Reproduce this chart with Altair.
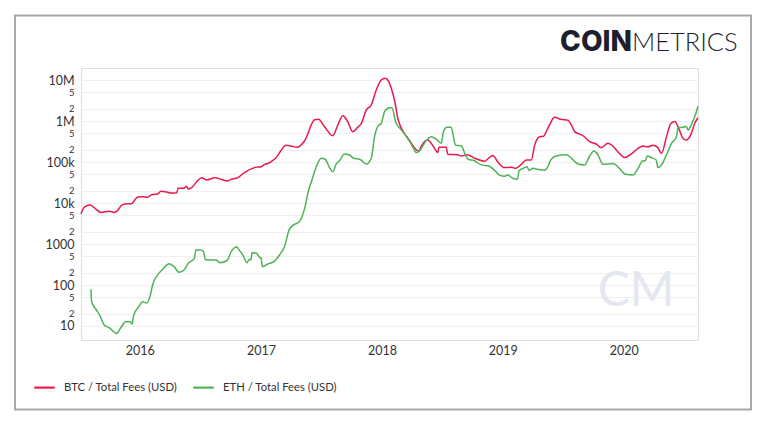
import altair as alt
import pandas as pd

btc_dates = ["2015-07-08","2015-07-18","2015-08-05","2015-08-22","2015-09-06","2015-10-01","2015-10-16","2015-10-26",
"2015-11-08","2015-11-25","2015-12-07","2015-12-26","2016-01-10","2016-01-25","2016-02-06","2016-02-24","2016-03-05",
"2016-03-23","2016-04-04","2016-04-22","2016-04-26","2016-05-14","2016-05-21","2016-05-27","2016-06-09","2016-06-22",
"2016-07-06","2016-07-22","2016-08-15","2016-09-02","2016-09-22","2016-10-07","2016-10-22","2016-11-12","2016-12-18",
"2017-01-02","2017-01-10","2017-01-27","2017-02-16","2017-03-18","2017-04-02","2017-04-20","2017-05-13","2017-06-12",
"2017-06-24","2017-07-12","2017-08-06","2017-08-21","2017-09-05","2017-09-20","2017-10-05","2017-10-21","2017-10-31",
"2017-11-15","2017-11-30","2017-12-15","2017-12-30","2018-01-11","2018-01-24","2018-02-03","2018-02-11","2018-02-18",
"2018-03-01","2018-03-16","2018-03-31","2018-04-13","2018-04-23","2018-04-30","2018-05-20","2018-05-25","2018-06-09",
"2018-06-19","2018-06-22","2018-07-14","2018-07-19","2018-08-18","2018-08-29","2018-09-15","2018-10-08","2018-11-07",
"2018-11-22","2018-12-02","2018-12-17","2019-01-06","2019-01-27","2019-02-09","2019-02-26","2019-03-13","2019-03-28",
"2019-04-07","2019-04-22","2019-05-04","2019-05-14","2019-05-22","2019-06-06","2019-06-24","2019-07-16","2019-07-27",
"2019-08-06","2019-08-31","2019-09-20","2019-10-10","2019-10-25","2019-11-14","2019-11-29","2019-12-14","2020-01-04",
"2020-01-24","2020-02-13","2020-02-28","2020-03-14","2020-03-29","2020-04-12","2020-04-24","2020-05-09","2020-05-22",
"2020-06-03","2020-06-13","2020-06-28","2020-07-08","2020-07-23","2020-08-02","2020-08-12"]
btc_values = [5400,7900,8900,7100,5900,6300,5900,6500,
8900,9600,9600,14000,14300,13800,15900,16600,19300,
18500,17600,17900,23000,23000,25700,21900,25000,33800,
41500,36500,41500,37900,34500,38500,41000,55000,75000,
77000,85000,96000,129000,255000,245000,228000,330000,1070000,
1100000,720000,437000,800000,1340000,966000,550000,720000,870000,
1870000,2460000,5700000,10000000,11000000,8300000,4700000,2460000,1170000,
660000,424000,286000,204000,185000,245000,345000,320000,215000,
170000,228000,228000,155000,150000,140000,150000,124000,105000,
129000,144000,100000,73000,74000,70000,88000,112000,112000,
258000,415000,424000,600000,800000,1230000,1100000,1050000,800000,
550000,437000,313000,275000,224000,286000,245000,178000,129000,
157000,215000,245000,235000,258000,228000,163000,415000,870000,
970000,720000,375000,345000,500000,870000,1200000]

eth_dates = ["2015-08-07","2015-08-09","2015-08-22","2015-09-04","2015-09-16","2015-10-01","2015-10-24","2015-11-05",
"2015-11-20","2015-12-04","2015-12-09","2015-12-14","2015-12-31","2016-01-10","2016-01-22","2016-02-02","2016-02-09",
"2016-02-24","2016-03-10","2016-03-30","2016-04-14","2016-04-29","2016-05-14","2016-05-27","2016-06-14","2016-06-19",
"2016-07-04","2016-07-12","2016-07-17","2016-08-03","2016-08-18","2016-08-31","2016-09-20","2016-10-04","2016-10-20",
"2016-10-23","2016-11-07","2016-11-20","2016-11-27","2016-12-02","2016-12-05","2016-12-18","2016-12-28","2017-01-02",
"2017-01-05","2017-01-22","2017-02-09","2017-02-26","2017-03-13","2017-03-28","2017-04-12","2017-04-27","2017-05-13",
"2017-05-25","2017-06-04","2017-06-17","2017-07-02","2017-07-14","2017-07-27","2017-08-06","2017-08-16","2017-08-26",
"2017-09-10","2017-09-25","2017-10-08","2017-10-26","2017-11-15","2017-11-30","2017-12-10","2017-12-20","2017-12-30",
"2018-01-09","2018-01-19","2018-01-24","2018-01-31","2018-02-06","2018-02-11","2018-03-01","2018-03-21","2018-04-05",
"2018-04-15","2018-04-27","2018-05-10","2018-05-30","2018-06-14","2018-06-29","2018-07-06","2018-07-16","2018-07-29",
"2018-08-05","2018-08-11","2018-08-29","2018-09-08","2018-09-18","2018-10-08","2018-10-28","2018-11-20","2018-12-07",
"2018-12-22","2019-01-06","2019-01-16","2019-01-31","2019-02-14","2019-02-19","2019-03-08","2019-03-15","2019-03-21",
"2019-04-02","2019-04-17","2019-05-07","2019-05-20","2019-05-22","2019-06-11","2019-07-11","2019-07-27","2019-08-16",
"2019-09-05","2019-09-20","2019-10-03","2019-10-15","2019-10-30","2019-11-29","2019-12-19","2020-01-04","2020-01-29",
"2020-02-13","2020-02-28","2020-03-06","2020-03-12","2020-03-24","2020-04-08","2020-04-13","2020-04-24","2020-05-09",
"2020-05-24","2020-06-08","2020-06-13","2020-06-28","2020-07-08","2020-07-13","2020-07-23","2020-08-04","2020-08-12"]
eth_values = [78.6,39,25.6,17.5,10.6,9.1,6.6,9.1,
12.7,12.7,11,17.9,30.8,39,36.5,55,100,
175,240,330,280,204,232,338,447,710,
710,650,420,405,405,350,390,673,860,
800,540,350,425,410,615,600,473,447,
280,325,370,540,860,2300,3000,3500,7400,
20700,36500,77000,124000,117000,73000,58000,89000,107000,
157000,148000,124000,117000,89000,124000,415000,750000,870000,
1700000,2050000,2100000,2100000,1550000,970000,600000,375000,228000,
170000,195000,295000,415000,360000,286000,550000,700000,700000,
415000,258000,245000,163000,117000,107000,85000,80000,63000,
48000,45000,48000,40000,38000,61000,73000,77000,63000,
70000,66000,63000,88000,100000,140000,150000,124000,89000,
85000,140000,185000,150000,88000,92000,70000,51000,48000,
70000,107000,107000,140000,128000,112000,73000,85000,150000,
286000,415000,690000,700000,750000,600000,820000,1400000,2300000]

series_names = ["BTC / Total Fees (USD)", "ETH / Total Fees (USD)"]
series_colors = ["#e8194c", "#4db356"]

tick_values = [10, 20, 50, 100, 200, 500, 1000, 2000, 5000, 10000, 20000, 50000,
               100000, 200000, 500000, 1000000, 2000000, 5000000, 10000000]
tick_labels = ["10", "2", "5", "100", "2", "5", "1000", "2", "5", "10k", "2", "5",
               "100k", "2", "5", "1M", "2", "5", "10M"]
major_ticks = [10, 100, 1000, 10000, 100000, 1000000, 10000000]

df = pd.concat([
    pd.DataFrame({"date": btc_dates, "value": btc_values, "series": series_names[0]}),
    pd.DataFrame({"date": eth_dates, "value": eth_values, "series": series_names[1]}),
])

label_expr = "''"
for v, l in reversed(list(zip(tick_values, tick_labels))):
    label_expr = f"datum.value == {v} ? '{l}' : ({label_expr})"

major_test = "indexof([" + ",".join(str(v) for v in major_ticks) + "], datum.value) >= 0"

W, H = 617, 272
FONT = "Lato"

lines = alt.Chart(df).mark_line(strokeWidth=1.5, interpolate="monotone").encode(
    x=alt.X("date:T",
            scale=alt.Scale(domain=["2015-07-08", "2020-08-12"], nice=False),
            axis=alt.Axis(title=None, format="%Y", tickCount={"interval": "year", "step": 1},
                          grid=False, domain=False, ticks=False, labelPadding=4,
                          labelFontSize=12.5, labelColor="#333333", labelFont=FONT)),
    y=alt.Y("value:Q",
            scale=alt.Scale(type="log", domain=[4.555, 19630000], nice=False),
            axis=alt.Axis(title=None, values=tick_values, labelExpr=label_expr,
                          grid=True, gridColor="#efefef", gridWidth=1,
                          domain=False, ticks=False, labelPadding=7,
                          labelFont=FONT, labelColor="#333333",
                          labelFontSize={"condition": {"test": major_test, "value": 12.5}, "value": 9.5})),
    color=alt.Color("series:N",
                    scale=alt.Scale(domain=series_names, range=series_colors),
                    legend=alt.Legend(title=None, orient="none", legendX=-48, legendY=308,
                                      direction="horizontal", symbolType="stroke",
                                      symbolStrokeWidth=2.2, symbolSize=420,
                                      labelFont=FONT, labelFontSize=11.3, labelColor="#333333",
                                      labelOffset=8, columnPadding=10)),
)

frame = alt.Chart(alt.Data(values=[{}])).mark_rect(
    fill=None, fillOpacity=0, stroke="#a7a7ae", strokeWidth=2
).encode(x=alt.value(-66), x2=alt.value(670), y=alt.value(-52.5), y2=alt.value(341.5))

logo_bold = alt.Chart(alt.Data(values=[{"t": "COIN"}])).mark_text(
    font="Inter", fontSize=28, fontWeight=800, color="#1d1f2f", align="right", baseline="alphabetic"
).encode(text="t:N", x=alt.value(551), y=alt.value(-17))

logo_light = alt.Chart(alt.Data(values=[{"t": "METRICS"}])).mark_text(
    font="Lato", fontSize=25.5, fontWeight=300, color="#1d1f2f", align="left", baseline="alphabetic"
).encode(text="t:N", x=alt.value(551), y=alt.value(-17))

watermark = alt.Chart(alt.Data(values=[{"t": "CM"}])).mark_text(
    font="Lato", fontSize=48, fontWeight=400, color="#e4e7f0", align="center", baseline="alphabetic"
).encode(text="t:N", x=alt.value(555), y=alt.value(238))

chart = alt.layer(frame, watermark, lines, logo_bold, logo_light).properties(
    width=W, height=H,
    padding={"left": 73, "top": 60, "right": 62, "bottom": 78},
    autosize=alt.AutoSizeParams(type="none"),
).configure_view(stroke=None).configure(background="white")

chart.save("out.html", embed_options={"renderer": "svg", "actions": False})
